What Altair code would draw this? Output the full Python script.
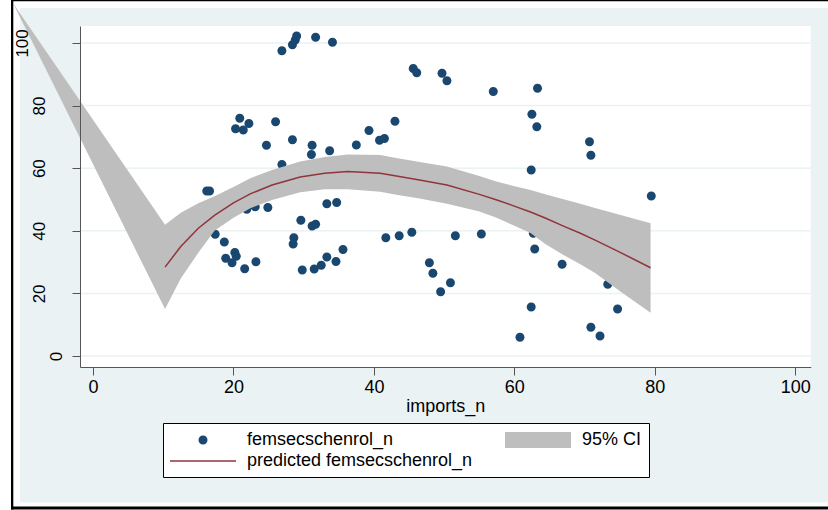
import altair as alt
import pandas as pd

# ---------------- data ----------------
scatter_x = [26.9, 28.4, 28.8, 29.0, 31.7, 34.1, 20.9, 22.2, 20.3, 21.4, 26.0, 24.7,
             28.4, 31.2, 31.1, 33.7, 26.9, 16.2, 16.6, 17.4, 18.7, 18.9, 20.2, 20.4,
             19.8, 21.6, 23.2, 21.9, 23.1, 24.9, 29.6, 31.2, 31.7, 28.6, 28.5, 29.8,
             31.5, 32.5, 33.3, 34.6, 35.6, 33.3, 34.7, 37.5, 39.3, 40.8, 41.5, 43.0,
             45.6, 46.1, 49.7, 50.4, 57.0, 63.3, 62.5, 63.2, 70.7, 70.9, 62.4, 79.5,
             41.7, 43.6, 45.4, 51.6, 55.3, 62.7, 47.9, 48.4, 50.9, 49.5, 62.9, 66.8,
             73.3, 74.7, 62.4, 60.8, 70.9, 72.2]
scatter_y = [97.5, 99.4, 100.9, 102.2, 101.8, 100.2, 75.9, 74.3, 72.6, 72.2, 74.8, 67.3,
             69.1, 67.3, 64.4, 65.6, 61.2, 52.7, 52.7, 38.9, 36.4, 31.2, 33.1, 31.9,
             29.8, 27.9, 30.1, 46.9, 47.7, 47.4, 43.4, 41.5, 42.1, 37.8, 35.8, 27.5,
             27.8, 29.0, 31.6, 30.2, 34.0, 48.6, 49.0, 67.4, 72.0, 68.9, 69.5, 75.0,
             91.8, 90.5, 90.3, 87.9, 84.5, 85.5, 77.2, 73.2, 68.4, 64.1, 59.4, 51.1,
             37.8, 38.4, 39.5, 38.4, 39.0, 39.2, 29.8, 26.4, 23.4, 20.5, 34.2, 29.3,
             22.9, 15.0, 15.7, 6.0, 9.2, 6.4]

band_x = [-11.38, 10.26, 12.5, 15.0, 17.3, 20.0, 22.4, 25.5, 29.5, 33.0, 36.3, 40.9,
          43.0, 46.5, 50.4, 54.9, 57.3, 59.6, 62.3, 64.4, 67.0, 69.4, 71.5, 75.0, 79.4]
band_lo = [112.7, 15.0, 24.8, 33.0, 40.0, 44.2, 47.2, 49.8, 52.3, 53.3, 53.3, 52.5,
           51.6, 50.3, 48.6, 46.2, 44.3, 42.0, 39.3, 35.8, 32.3, 29.3, 26.5, 20.8, 13.8]
band_hi = [112.7, 41.9, 45.8, 48.8, 51.0, 54.0, 56.8, 59.4, 62.1, 63.6, 64.4, 64.2,
           63.3, 62.0, 60.5, 57.6, 55.8, 54.5, 53.0, 51.7, 50.1, 48.6, 47.3, 45.1, 42.4]

fit_x = [10.26, 12.5, 15.0, 17.3, 20.0, 22.4, 25.5, 29.5, 33.0, 36.3, 40.9, 43.0,
         46.5, 50.4, 54.9, 57.3, 59.6, 62.3, 64.4, 67.0, 69.4, 71.5, 75.0, 79.4]
fit_y = [28.4, 35.0, 40.8, 44.9, 48.9, 51.8, 54.6, 57.2, 58.4, 58.9, 58.4, 57.6,
         56.2, 54.6, 51.7, 50.0, 48.2, 46.0, 44.1, 41.5, 39.2, 37.0, 33.2, 28.2]

# legend order (column-major fill of a 2-column, 2-row legend)
series_names = ["femsecschenrol_n", "predicted femsecschenrol_n", "95% CI"]
series_colors = ["#1a476f", "#90353b", "#bebebe"]
series_shapes = [
    "M-0.45,0A0.45,0.45,0,1,1,0.45,0A0.45,0.45,0,1,1,-0.45,0Z",
    "M-3.3,-0.07H3.3V0.07H-3.3Z",
    "M-3.3,-0.8H3.3V0.8H-3.3Z",
]

x_ticks = [0, 20, 40, 60, 80, 100]
y_ticks = [0, 20, 40, 60, 80, 100]

# ---------------- layout ----------------
W, H = 730.7, 341.0
PAD_L, PAD_T = 80, 26
FONT = "Liberation Sans"
BG = "#EAF2F3"
BAND = "#bebebe"
LINE = "#90353b"

scat_df = pd.DataFrame({"x": scatter_x, "y": scatter_y, "series": series_names[0]})
band_df = pd.DataFrame({"bx": band_x, "lo": band_lo, "hi": band_hi})
fit_df = pd.DataFrame({"fx": fit_x, "fy": fit_y})
grid_df = pd.DataFrame({"gy": y_ticks})

xscale = alt.Scale(domain=[-1.85, 102.2], nice=False, zero=False)
yscale = alt.Scale(domain=[-3.5, 105.4], nice=False, zero=False)

xaxis = alt.Axis(values=x_ticks, title="imports_n", grid=False, tickSize=8,
                 domainColor="#555555", tickColor="#555555", labelFont=FONT,
                 labelFontSize=18, labelColor="black", labelPadding=3,
                 titleFont=FONT, titleFontSize=18, titleFontWeight="normal",
                 titleColor="black", titlePadding=1, zindex=1)
yaxis = alt.Axis(values=y_ticks, title=None, grid=False,
                 tickSize=8, domainColor="#555555", tickColor="#555555",
                 labelFont=FONT, labelFontSize=17, labelColor="black",
                 labelAngle=270, labelAlign="center", labelBaseline="bottom",
                 labelPadding={"condition": [{"test": "datum.value >= 100", "value": 41},
                                             {"test": "datum.value >= 10", "value": 24}],
                               "value": 7},
                 zindex=1)


def deco(x1, x2, y1, y2, color):
    # page decoration (background frame), given in page pixels
    return alt.Chart(pd.DataFrame({"d": [0]})).mark_rect(color=color, clip=False).encode(
        x=alt.value(x1 - PAD_L), x2=alt.value(x2 - PAD_L),
        y=alt.value(y1 - PAD_T), y2=alt.value(y2 - PAD_T))


decos = [
    deco(0, 20, 0, 510, "white"),
    deco(0, 828, 0, 8, "white"),
    deco(0, 828, 502.5, 510, "white"),
    deco(11, 13.3, 0, 509.5, "black"),
    deco(11, 828, 0, 1.3, "black"),
    deco(11, 828, 506.5, 509.5, "black"),
]

grid = alt.Chart(grid_df).mark_rule(color=BG, strokeWidth=1.5).encode(
    y=alt.Y("gy:Q", scale=yscale, axis=yaxis),
    x=alt.value(0), x2=alt.value(W),
)

legend = alt.Legend(title=None, orient="none", legendX=83, legendY=397, columns=2,
                    columnPadding=32, rowPadding=2, symbolSize=400, symbolStrokeWidth=0,
                    symbolOffset=23, labelOffset=34, labelLimit=500, labelFont=FONT,
                    labelFontSize=18, labelColor="black", fillColor="white",
                    strokeColor="black", padding=7, symbolOpacity=1)

points = alt.Chart(scat_df).mark_point(filled=True, size=400, opacity=1,
                                        strokeWidth=0).encode(
    x=alt.X("x:Q", scale=xscale, axis=xaxis),
    y=alt.Y("y:Q", scale=yscale, axis=yaxis),
    color=alt.Color("series:N", scale=alt.Scale(domain=series_names, range=series_colors),
                    legend=legend),
    shape=alt.Shape("series:N", scale=alt.Scale(domain=series_names, range=series_shapes),
                    legend=legend),
)

band = alt.Chart(band_df).mark_area(color=BAND, clip=False).encode(
    x=alt.X("bx:Q", scale=xscale),
    y=alt.Y("lo:Q", scale=yscale),
    y2=alt.Y2("hi:Q"),
)

line = alt.Chart(fit_df).mark_line(color=LINE, strokeWidth=1.5).encode(
    x=alt.X("fx:Q", scale=xscale),
    y=alt.Y("fy:Q", scale=yscale),
    order=alt.Order("fx:Q"),
)

chart = alt.layer(*decos, grid, points, band, line).properties(
    width=W, height=H,
    autosize=alt.AutoSizeParams(type="none"),
    padding={"left": PAD_L, "top": PAD_T, "right": 828 - PAD_L - W, "bottom": 510 - PAD_T - H},
    background=BG,
).configure_view(fill="white", stroke=None)

chart.save("out.html", embed_options={"renderer": "svg", "actions": False})
